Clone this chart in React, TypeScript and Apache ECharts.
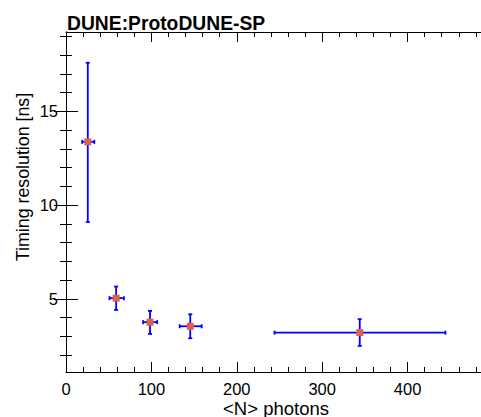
import React, { useEffect, useRef } from "react";
import * as echarts from "echarts";

// Data
const photons = [25.5, 58.7, 98.4, 145.5, 344];
const photonsLow = [18.9, 50.9, 90.3, 133.1, 244.2];
const photonsHigh = [33.2, 67.9, 106.8, 158.9, 444.3];
const resolution = [13.38, 5.04, 3.76, 3.54, 3.2];
const resolutionLow = [9.1, 4.41, 3.13, 2.9, 2.49];
const resolutionHigh = [17.6, 5.66, 4.36, 4.18, 3.92];

const xMajorTicks = [0, 100, 200, 300, 400];
const xMinorTicks = [20, 40, 60, 80, 120, 140, 160, 180, 220, 240, 260, 280, 320, 340, 360, 380, 420, 440, 460, 480];
const yMajorTicks = [5, 10, 15];
const yMinorTicks = [2, 3, 4, 6, 7, 8, 9, 11, 12, 13, 14, 16, 17, 18, 19];

const FONT = "Liberation Sans";

export default function App() {
  const ref = useRef<HTMLDivElement>(null);
  useEffect(() => {
    if (!ref.current) return;
    const chart = echarts.init(ref.current, null, { renderer: "svg" });
    const errData = photons.map((x, i) => [x, resolution[i], photonsLow[i], photonsHigh[i], resolutionLow[i], resolutionHigh[i]]);
    const ptData = photons.map((x, i) => [x, resolution[i]]);
    const xBase = { type: "value", min: 0, max: 486, splitLine: { show: false }, gridIndex: 0 };
    const yBase = { type: "value", min: 1.1, max: 19.24, splitLine: { show: false }, gridIndex: 0 };
    const line = { show: true, lineStyle: { color: "#000", width: 1 } };
    const noLine = { show: false };
    const option = {
      animation: false,
      grid: { left: 66, top: 32, width: 420, height: 340, containLabel: false },
      xAxis: [
        {
          ...xBase, position: "bottom", axisLine: line,
          axisTick: { show: true, inside: true, length: 10, customValues: xMajorTicks, lineStyle: { color: "#000" } },
          axisLabel: { show: true, customValues: xMajorTicks, fontSize: 16.5, lineHeight: 16.5, color: "#000", fontFamily: FONT, margin: 9 },
        },
        {
          ...xBase, position: "bottom", axisLine: noLine,
          axisTick: { show: true, inside: true, length: 5, customValues: xMinorTicks, lineStyle: { color: "#000" } },
          axisLabel: { show: false },
        },
        {
          ...xBase, position: "top", axisLine: line,
          axisTick: { show: true, inside: true, length: 10, customValues: xMajorTicks, lineStyle: { color: "#000" } },
          axisLabel: { show: false },
        },
        {
          ...xBase, position: "top", axisLine: noLine,
          axisTick: { show: true, inside: true, length: 5, customValues: xMinorTicks, lineStyle: { color: "#000" } },
          axisLabel: { show: false },
        },
      ],
      yAxis: [
        {
          ...yBase, position: "left", axisLine: line,
          axisTick: { show: true, inside: true, length: 12, customValues: yMajorTicks, lineStyle: { color: "#000" } },
          axisLabel: { show: true, customValues: yMajorTicks, fontSize: 16.5, color: "#000", fontFamily: FONT, margin: 8 },
        },
        {
          ...yBase, position: "left", axisLine: noLine,
          axisTick: { show: true, inside: true, length: 6, customValues: yMinorTicks, lineStyle: { color: "#000" } },
          axisLabel: { show: false },
        },
        {
          ...yBase, position: "right", axisLine: line,
          axisTick: { show: true, inside: true, length: 12, customValues: yMajorTicks, lineStyle: { color: "#000" } },
          axisLabel: { show: false },
        },
        {
          ...yBase, position: "right", axisLine: noLine,
          axisTick: { show: true, inside: true, length: 6, customValues: yMinorTicks, lineStyle: { color: "#000" } },
          axisLabel: { show: false },
        },
      ],
      graphic: [
        {
          type: "text", x: 67, y: 23,
          style: { text: "DUNE:ProtoDUNE-SP", fontFamily: FONT, fontSize: 19.3, fontWeight: "bold", fill: "#000", align: "left", verticalAlign: "middle" },
        },
        {
          type: "text", x: 276, y: 408,
          style: { text: "<N> photons", fontFamily: FONT, fontSize: 18.5, lineHeight: 17, fill: "#000", align: "center", verticalAlign: "middle" },
        },
        {
          type: "text", x: 23, y: 177, rotation: Math.PI / 2,
          style: { text: "Timing resolution [ns]", fontFamily: FONT, fontSize: 17.8, fill: "#000", align: "center", verticalAlign: "middle" },
        },
      ],
      series: [
        {
          type: "custom",
          xAxisIndex: 0,
          yAxisIndex: 0,
          z: 2,
          data: errData,
          renderItem: (params: any, api: any) => {
            const x = api.value(0), y = api.value(1);
            const c = api.coord([x, y]);
            const xl = api.coord([api.value(2), y]);
            const xh = api.coord([api.value(3), y]);
            const yl = api.coord([x, api.value(4)]);
            const yh = api.coord([x, api.value(5)]);
            const st = { stroke: "#0000ff", lineWidth: 1.8 };
            const cap = 2;
            return {
              type: "group",
              children: [
                { type: "line", shape: { x1: xl[0], y1: c[1], x2: xh[0], y2: c[1] }, style: st },
                { type: "line", shape: { x1: c[0], y1: yl[1], x2: c[0], y2: yh[1] }, style: st },
                { type: "line", shape: { x1: xl[0], y1: c[1] - cap, x2: xl[0], y2: c[1] + cap }, style: st },
                { type: "line", shape: { x1: xh[0], y1: c[1] - cap, x2: xh[0], y2: c[1] + cap }, style: st },
                { type: "line", shape: { x1: c[0] - cap, y1: yl[1], x2: c[0] + cap, y2: yl[1] }, style: st },
                { type: "line", shape: { x1: c[0] - cap, y1: yh[1], x2: c[0] + cap, y2: yh[1] }, style: st },
              ],
            };
          },
        },
        {
          type: "scatter",
          xAxisIndex: 0,
          yAxisIndex: 0,
          z: 3,
          symbol: "rect",
          symbolSize: 7,
          itemStyle: { color: "#dc5f50", opacity: 1 },
          data: ptData,
        },
      ],
    };
    chart.setOption(option as any);
    return () => chart.dispose();
  }, []);
  return <div ref={ref} style={{ position: "fixed", left: 0, top: 0, width: 481, height: 417, background: "#fff" }} />;
}
